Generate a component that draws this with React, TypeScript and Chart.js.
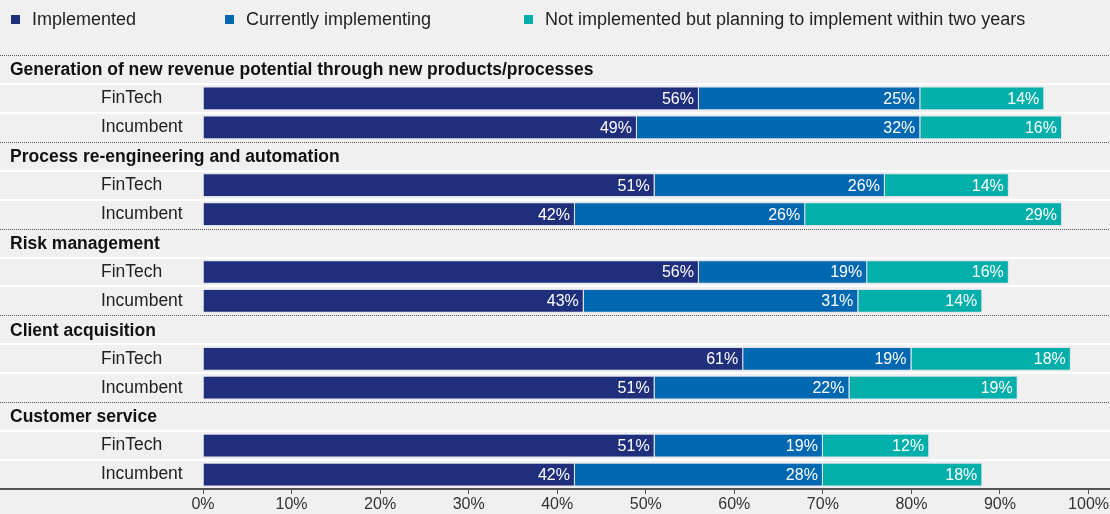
import React, { useEffect, useRef } from "react";
import { Chart, registerables } from "chart.js";

Chart.register(...registerables);

const groups = [
  "Generation of new revenue potential through new products/processes",
  "Process re-engineering and automation",
  "Risk management",
  "Client acquisition",
  "Customer service",
];
const respondents = ["FinTech", "Incumbent"];
const seriesNames = [
  "Implemented",
  "Currently implementing",
  "Not implemented but planning to implement within two years",
];
// order: group1 FinTech, group1 Incumbent, group2 FinTech, ...
const implemented = [56, 49, 51, 42, 56, 43, 61, 51, 51, 42];
const implementing = [25, 32, 26, 26, 19, 31, 19, 22, 19, 28];
const planning = [14, 16, 14, 29, 16, 14, 18, 19, 12, 18];
const xTickStep = 10;
const xMax = 100;

const seriesColors = ["#202f7c", "#0068b1", "#00afaa"];
const legendX = [11, 225, 524];
const FONT = "'Liberation Sans', Arial, sans-serif";

export default function App() {
  const canvasRef = useRef<HTMLCanvasElement | null>(null);

  useEffect(() => {
    document.body.style.margin = "0";
    document.body.style.background = "#f0f0f0";
    const canvas = canvasRef.current;
    if (!canvas) return;

    const labels: string[] = [];
    const headerRows: { index: number; text: string }[] = [];
    const seriesData: (number | null)[][] = [[], [], []];
    const allSeries = [implemented, implementing, planning];
    groups.forEach((g, gi) => {
      headerRows.push({ index: labels.length, text: g });
      labels.push("");
      seriesData.forEach((arr) => arr.push(null));
      respondents.forEach((r, ri) => {
        labels.push(r);
        const k = gi * respondents.length + ri;
        seriesData.forEach((arr, si) => arr.push(allSeries[si][k]));
      });
    });

    const decor = {
      id: "decor",
      beforeDraw(chart: any) {
        const { ctx, width, height } = chart;
        ctx.save();
        ctx.fillStyle = "#f0f0f0";
        ctx.fillRect(0, 0, width, height);
        ctx.restore();
      },
      beforeDatasetsDraw(chart: any) {
        const { ctx, chartArea, width } = chart;
        const n = labels.length;
        const band = (chartArea.bottom - chartArea.top) / n;
        ctx.save();
        for (let k = 0; k < n; k++) {
          const y = Math.round(chartArea.top + k * band);
          ctx.beginPath();
          if (k % 3 === 0) {
            ctx.strokeStyle = "#555";
            ctx.lineWidth = 1;
            ctx.setLineDash([1, 1]);
            ctx.moveTo(0, y + 0.5);
            ctx.lineTo(width, y + 0.5);
          } else {
            ctx.strokeStyle = "#ffffff";
            ctx.lineWidth = 2;
            ctx.setLineDash([]);
            ctx.moveTo(0, y);
            ctx.lineTo(width, y);
          }
          ctx.stroke();
        }
        ctx.setLineDash([]);
        const yScale = chart.scales.y;
        ctx.fillStyle = "#111";
        ctx.font = `bold 17.5px ${FONT}`;
        ctx.textAlign = "left";
        ctx.textBaseline = "middle";
        headerRows.forEach((h) => {
          ctx.fillText(h.text, 10, yScale.getPixelForTick(h.index) + 1);
        });
        ctx.restore();
      },
      afterDatasetsDraw(chart: any) {
        const { ctx } = chart;
        ctx.save();
        ctx.fillStyle = "#ffffff";
        ctx.font = `16px ${FONT}`;
        ctx.textAlign = "right";
        ctx.textBaseline = "middle";
        chart.data.datasets.forEach((ds: any, di: number) => {
          const meta = chart.getDatasetMeta(di);
          meta.data.forEach((el: any, i: number) => {
            const v = ds.data[i];
            if (v == null) return;
            ctx.fillText(`${v}%`, el.x - 5, el.y + 1);
          });
        });
        ctx.restore();
      },
      afterDraw(chart: any) {
        const { ctx, chartArea, width } = chart;
        ctx.save();
        ctx.strokeStyle = "#555";
        ctx.lineWidth = 2;
        ctx.beginPath();
        ctx.moveTo(0, chartArea.bottom);
        ctx.lineTo(width, chartArea.bottom);
        ctx.stroke();
        ctx.font = `18px ${FONT}`;
        ctx.textAlign = "left";
        ctx.textBaseline = "middle";
        seriesNames.forEach((name, i) => {
          const x = legendX[i];
          ctx.fillStyle = seriesColors[i];
          ctx.fillRect(x, 15, 9, 9);
          ctx.fillStyle = "#222";
          ctx.fillText(name, x + 21, 20);
        });
        ctx.restore();
      },
    };

    const chart = new Chart(canvas, {
      type: "bar",
      data: {
        labels,
        datasets: seriesNames.map((name, i) => ({
          label: name,
          data: seriesData[i],
          backgroundColor: seriesColors[i],
          borderColor: "rgba(200,210,230,0.55)",
          borderWidth: 1,
          barPercentage: 0.82,
          categoryPercentage: 1,
        })),
      },
      options: {
        indexAxis: "y",
        responsive: false,
        animation: false,
        layout: { padding: { left: 101, right: 20, top: 55, bottom: 0 } },
        plugins: {
          legend: { display: false },
          tooltip: { enabled: false },
        },
        scales: {
          x: {
            stacked: true,
            min: 0,
            max: xMax,
            afterFit: (s: any) => {
              s.height = 25;
            },
            ticks: {
              stepSize: xTickStep,
              padding: 1,
              color: "#333",
              font: { family: FONT, size: 16 },
              callback: (v: any) => `${v}%`,
            },
            grid: {
              drawOnChartArea: false,
              drawTicks: true,
              tickLength: 5,
              tickColor: "#555",
              tickWidth: 1,
            },
            border: { display: false },
          },
          y: {
            stacked: true,
            afterFit: (s: any) => {
              s.width = 102;
            },
            ticks: {
              crossAlign: "far",
              color: "#222",
              font: { family: FONT, size: 17.5 },
              autoSkip: false,
            },
            grid: { display: false },
            border: { display: false },
          },
        },
      },
      plugins: [decor],
    } as any);

    return () => chart.destroy();
  }, []);

  return (
    <div style={{ width: 1110, height: 514 }}>
      <canvas ref={canvasRef} width={1110} height={514} style={{ display: "block" }} />
    </div>
  );
}
